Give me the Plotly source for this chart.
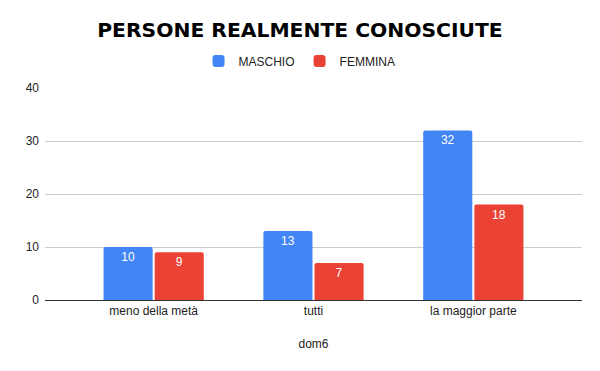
import plotly.graph_objects as go

categories = ["meno della metà", "tutti", "la maggior parte"]
maschio = [10, 13, 32]
femmina = [9, 7, 18]
y_ticks = [0, 10, 20, 30, 40]

font = "Liberation Sans, Arial, sans-serif"

fig = go.Figure()
fig.add_trace(go.Bar(name="MASCHIO", x=categories, y=maschio, marker_color="#4285F4",
                     marker_line=dict(width=7, color="rgba(0,0,0,0)"),
                     text=maschio, textposition="inside", insidetextanchor="end",
                     textfont=dict(color="white", size=12, family=font), textangle=0))
fig.add_trace(go.Bar(name="FEMMINA", x=categories, y=femmina, marker_color="#EA4335",
                     marker_line=dict(width=7, color="rgba(0,0,0,0)"),
                     text=femmina, textposition="inside", insidetextanchor="end",
                     textfont=dict(color="white", size=12, family=font), textangle=0))

# page body has an 8px default margin, so the figure is sized to fill the rest
fig.update_layout(
    width=592, height=363,
    margin=dict(l=37, r=18, t=80, b=71, autoexpand=False),
    paper_bgcolor="white", plot_bgcolor="white",
    barmode="group", bargap=0.36, bargroupgap=0.04, barcornerradius=2,
    title=dict(text="<b>PERSONE REALMENTE CONOSCIUTE</b>", x=0.4932, xanchor="center",
               yref="container", y=0.941, yanchor="middle",
               font=dict(family="DejaVu Sans, sans-serif", size=20.3, color="black")),
    legend=dict(orientation="h", x=0.474, xanchor="center", yref="container",
                y=0.854, yanchor="middle",
                font=dict(family=font, size=12, color="#222222"),
                itemwidth=30, traceorder="normal"),
    font=dict(family=font, size=12, color="#222222"),
    uniformtext=dict(minsize=8, mode="show"),
)
fig.update_yaxes(range=[0, 40], tickvals=y_ticks, showgrid=True, gridcolor="#cccccc",
                 zeroline=False, showline=False, ticks="", ticklabelstandoff=5,
                 tickfont=dict(size=12, color="#222222"))
fig.update_xaxes(range=[-0.68, 2.68], showline=True, linecolor="#333333", linewidth=1,
                 ticks="", tickfont=dict(size=12, color="#222222"),
                 title=dict(text="dom6", font=dict(size=12, color="#222222"), standoff=22))

fig.write_html("out.html")
